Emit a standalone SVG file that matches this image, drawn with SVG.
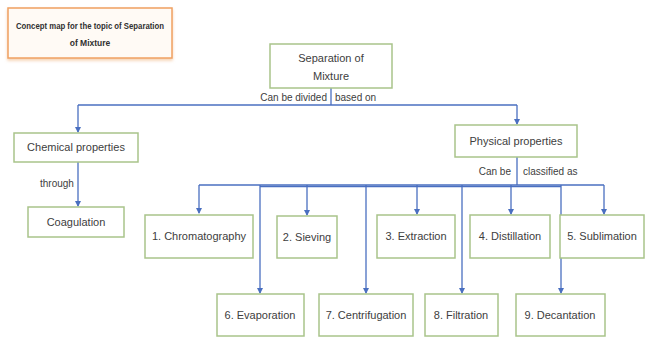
<svg xmlns="http://www.w3.org/2000/svg" width="646" height="344" viewBox="0 0 646 344">
<style>
.node rect{fill:#ffffff;stroke:#a9c48a;stroke-width:1.5}
.node text{font-family:"Liberation Sans",Arial,sans-serif;font-size:11px;fill:#404040;text-anchor:middle}
.lbl{font-family:"Liberation Sans",Arial,sans-serif;font-size:10px;fill:#404040}
.conn path{fill:none;stroke:#4a6fc0;stroke-width:1.3}
.title rect{fill:#fffaf5;stroke:#f0a060;stroke-width:1.5}
.title text{font-family:"Liberation Sans",Arial,sans-serif;font-size:8.5px;font-weight:bold;fill:#303030;text-anchor:middle}
</style>
<defs>
<marker id="arr" markerWidth="6" markerHeight="6" refX="5" refY="3" orient="auto" markerUnits="userSpaceOnUse">
<path d="M0,0 L6,3 L0,6 z" fill="#4a6fc0"/>
</marker>
<filter id="sh" x="-10%" y="-10%" width="120%" height="130%">
<feDropShadow dx="0" dy="2" stdDeviation="1.5" flood-color="#f4c8a0" flood-opacity="0.8"/>
</filter>
</defs>
<rect width="646" height="344" fill="#ffffff"/>
<g id="title" class="title">
<rect x="8" y="8" width="164" height="50" filter="url(#sh)"/>
<text x="90" y="29" textLength="148" lengthAdjust="spacingAndGlyphs">Concept map for the topic of Separation</text>
<text x="90" y="46">of Mixture</text>
</g>
<g id="connectors" class="conn">
<path d="M331,88 V105"/>
<path d="M78,105 H517"/>
<path d="M78,105 V132" marker-end="url(#arr)"/>
<path d="M517,105 V124" marker-end="url(#arr)"/>
<path d="M78,162 V206" marker-end="url(#arr)"/>
<path d="M517,157 V185"/>
<path d="M199,185 H604"/>
<path d="M260,186.5 H561"/>
<path d="M199,185 V213" marker-end="url(#arr)"/>
<path d="M307,185 V215" marker-end="url(#arr)"/>
<path d="M417,185 V214" marker-end="url(#arr)"/>
<path d="M511,185 V214" marker-end="url(#arr)"/>
<path d="M604,185 V214" marker-end="url(#arr)"/>
<path d="M260,185 V293" marker-end="url(#arr)"/>
<path d="M366,185 V293" marker-end="url(#arr)"/>
<path d="M462,185 V293" marker-end="url(#arr)"/>
<path d="M561,185 V293" marker-end="url(#arr)"/>
</g>
<g id="labels">
<text class="lbl" x="327" y="101" text-anchor="end">Can be divided</text>
<text class="lbl" x="335" y="101">based on</text>
<text class="lbl" x="40" y="187">through</text>
<text class="lbl" x="511" y="175" text-anchor="end">Can be</text>
<text class="lbl" x="523" y="175">classified as</text>
</g>
<g id="n-separation" class="node"><rect x="270" y="44" width="122" height="44"/><text x="331" y="62">Separation of</text><text x="331" y="80">Mixture</text></g>
<g id="n-chemical" class="node"><rect x="14" y="133" width="124" height="29"/><text x="76" y="151">Chemical properties</text></g>
<g id="n-physical" class="node"><rect x="455" y="125" width="122" height="32"/><text x="516" y="145">Physical properties</text></g>
<g id="n-coagulation" class="node"><rect x="28" y="207" width="96" height="30"/><text x="76" y="226">Coagulation</text></g>
<g id="n-chromatography" class="node"><rect x="145" y="215" width="108" height="43"/><text x="199" y="240">1. Chromatography</text></g>
<g id="n-sieving" class="node"><rect x="277" y="216" width="60" height="42"/><text x="307" y="241">2. Sieving</text></g>
<g id="n-extraction" class="node"><rect x="377" y="215" width="78" height="43"/><text x="416" y="240">3. Extraction</text></g>
<g id="n-distillation" class="node"><rect x="470" y="215" width="80" height="43"/><text x="510" y="240">4. Distillation</text></g>
<g id="n-sublimation" class="node"><rect x="560" y="215" width="84" height="43"/><text x="602" y="240">5. Sublimation</text></g>
<g id="n-evaporation" class="node"><rect x="217" y="294" width="87" height="42"/><text x="260" y="319">6. Evaporation</text></g>
<g id="n-centrifugation" class="node"><rect x="319" y="294" width="94" height="42"/><text x="366" y="319">7. Centrifugation</text></g>
<g id="n-filtration" class="node"><rect x="425" y="294" width="73" height="42"/><text x="461" y="319">8. Filtration</text></g>
<g id="n-decantation" class="node"><rect x="516" y="294" width="89" height="42"/><text x="560" y="319">9. Decantation</text></g>
</svg>
